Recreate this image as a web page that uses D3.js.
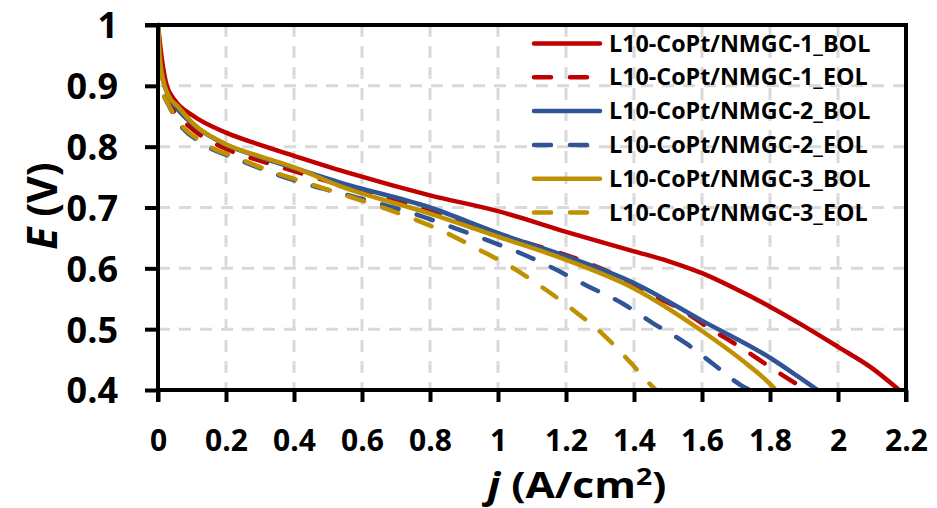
<!DOCTYPE html>
<html>
<head>
<meta charset="utf-8">
<script src="https://cdn.jsdelivr.net/npm/d3@7"></script>
<style>
html,body{margin:0;padding:0;background:#fff;}
svg{display:block;}
text{font-family:"Open Sans","Liberation Sans",sans-serif;font-weight:bold;fill:#000;}
</style>
</head>
<body>
<svg id="chart" width="937" height="508"></svg>
<script>
// ---- data ----
const seriesNames = ["L10-CoPt/NMGC-1_BOL","L10-CoPt/NMGC-1_EOL","L10-CoPt/NMGC-2_BOL","L10-CoPt/NMGC-2_EOL","L10-CoPt/NMGC-3_BOL","L10-CoPt/NMGC-3_EOL"];
const seriesColors = ["#C00000","#C00000","#2F5597","#2F5597","#BF9000","#BF9000"];
const seriesDashed = [false,true,false,true,false,true];

const j1BOL = [0,0.01,0.026,0.05,0.1,0.2,0.3,0.4,0.566,0.8,1.0,1.2,1.4,1.5,1.6,1.7,1.8,1.9,2.0,2.1,2.18];
const E1BOL = [1.0,0.95,0.9,0.876,0.852,0.823,0.803,0.785,0.756,0.72,0.694,0.66,0.628,0.612,0.592,0.566,0.537,0.505,0.471,0.436,0.4];

const j1EOL = [0,0.005,0.015,0.03,0.06,0.088,0.218,0.306,0.41,0.6,0.8,1.0,1.234,1.337,1.434,1.53,1.626,1.717,1.81,1.9,1.91];
const E1EOL = [1.0,0.95,0.9,0.875,0.85,0.835,0.792,0.776,0.758,0.727,0.694,0.656,0.615,0.591,0.561,0.535,0.5,0.469,0.434,0.403,0.4];

const j2BOL = [0,0.005,0.015,0.03,0.06,0.1,0.2,0.3,0.4,0.536,0.8,1.0,1.2,1.4,1.6,1.8,1.87,1.94];
const E2BOL = [1.0,0.95,0.91,0.885,0.86,0.838,0.803,0.783,0.765,0.741,0.7,0.658,0.62,0.576,0.514,0.453,0.427,0.4];

const j2EOL = [0,0.005,0.015,0.03,0.056,0.135,0.236,0.34,0.44,0.54,0.66,0.763,0.863,0.97,1.07,1.163,1.263,1.364,1.455,1.552,1.63,1.72,1.74];
const E2EOL = [1.0,0.93,0.89,0.87,0.843,0.804,0.779,0.756,0.738,0.723,0.705,0.688,0.668,0.646,0.624,0.6,0.571,0.543,0.51,0.477,0.444,0.406,0.4];

const j3BOL = [0,0.005,0.015,0.03,0.06,0.1,0.2,0.3,0.4,0.536,0.8,1.0,1.2,1.4,1.6,1.72,1.8,1.817];
const E3BOL = [1.0,0.95,0.91,0.885,0.865,0.84,0.804,0.784,0.766,0.735,0.69,0.652,0.614,0.567,0.497,0.448,0.41,0.4];

const j3EOL = [0,0.005,0.015,0.03,0.056,0.135,0.236,0.34,0.44,0.54,0.645,0.748,0.845,0.943,1.043,1.13,1.22,1.308,1.38,1.452,1.465];
const E3EOL = [1.0,0.93,0.89,0.87,0.845,0.806,0.781,0.758,0.74,0.722,0.703,0.682,0.659,0.631,0.601,0.569,0.532,0.492,0.451,0.407,0.4];

const xTicks = [0,0.2,0.4,0.6,0.8,1,1.2,1.4,1.6,1.8,2,2.2];
const xTickLabels = ["0","0.2","0.4","0.6","0.8","1","1.2","1.4","1.6","1.8","2","2.2"];
const yTicks = [0.4,0.5,0.6,0.7,0.8,0.9,1];
const yTickLabels = ["0.4","0.5","0.6","0.7","0.8","0.9","1"];

const jData = [j1BOL,j1EOL,j2BOL,j2EOL,j3BOL,j3EOL];
const EData = [E1BOL,E1EOL,E2BOL,E2EOL,E3BOL,E3EOL];

// ---- layout ----
const svg = d3.select("#chart");
const L = 158, R = 906, T = 25, B = 390;
const x = d3.scaleLinear().domain([0,2.2]).range([L,R]);
const y = d3.scaleLinear().domain([0.4,1]).range([B,T]);

// grid
const grid = svg.append("g");
grid.selectAll(".vg").data(xTicks.slice(1,-1)).enter().append("line")
  .attr("x1",d=>x(d)).attr("x2",d=>x(d)).attr("y1",T).attr("y2",B)
  .attr("stroke","#d9d9d9").attr("stroke-width",3).attr("stroke-dasharray","12,9");
grid.selectAll(".hg").data(yTicks.slice(1,-1)).enter().append("line")
  .attr("x1",L).attr("x2",R).attr("y1",d=>y(d)).attr("y2",d=>y(d))
  .attr("stroke","#d9d9d9").attr("stroke-width",3).attr("stroke-dasharray","12,9");

// curves
svg.append("clipPath").attr("id","clip").append("rect")
  .attr("x",L).attr("y",T-3).attr("width",R-L).attr("height",B-T+3);
const line = d3.line().x(d=>x(d[0])).y(d=>y(d[1])).curve(d3.curveMonotoneX);
const curves = svg.append("g").attr("clip-path","url(#clip)");
seriesNames.forEach((n,i)=>{
  const pts = jData[i].map((v,k)=>[v,EData[i][k]]);
  curves.append("path").datum(pts).attr("d",line)
    .attr("fill","none").attr("stroke",seriesColors[i]).attr("stroke-width",4.5)
    .attr("stroke-linecap","round").attr("stroke-linejoin","round")
    .attr("stroke-dasharray",seriesDashed[i]?"17,19":null);
});

// frame
const frame = svg.append("g").attr("stroke","#000").attr("stroke-width",4);
frame.append("line").attr("x1",L-13).attr("x2",R+2).attr("y1",T).attr("y2",T);
frame.append("line").attr("x1",R).attr("x2",R).attr("y1",T).attr("y2",B+12);
// axes
const xAxis = d3.axisBottom(x).tickValues(xTicks).tickSize(12).tickSizeOuter(0)
  .tickFormat((d,i)=>xTickLabels[i]);
const gx = svg.append("g").attr("transform",`translate(0,${B})`).call(xAxis);
gx.select(".domain").attr("stroke","#000").attr("stroke-width",4).attr("d",`M${L-2},0H${R+2}`);
gx.selectAll(".tick line").attr("stroke","#000").attr("stroke-width",4);
gx.selectAll(".tick text").attr("font-size",30).attr("font-family","Open Sans").attr("font-weight","bold").attr("fill","#000").attr("dy",0).attr("y",61);

const yAxis = d3.axisLeft(y).tickValues(yTicks).tickSize(13).tickSizeOuter(0)
  .tickFormat((d,i)=>yTickLabels[i]);
const gy = svg.append("g").attr("transform",`translate(${L},0)`).call(yAxis);
gy.select(".domain").attr("stroke","#000").attr("stroke-width",4).attr("d",`M0,${T-2}V${B+12}`);
gy.selectAll(".tick line").attr("stroke","#000").attr("stroke-width",4);
gy.selectAll(".tick text").attr("font-size",36).attr("font-family","Open Sans").attr("font-weight","bold").attr("fill","#000").attr("dy","0.36em").attr("x",-40);

// axis titles
const xt = svg.append("text").attr("transform","translate(577,498) scale(1.18,1)").attr("text-anchor","middle").attr("font-size",36);
xt.append("tspan").attr("font-style","italic").text("j");
xt.append("tspan").text(" (A/cm");
xt.append("tspan").attr("font-size",24).attr("dy",-13).text("2");
xt.append("tspan").attr("dy",13).text(")");

const yt = svg.append("text").attr("transform","translate(57,206) rotate(-90)").attr("text-anchor","middle").attr("font-size",41);
yt.append("tspan").attr("font-style","italic").text("E");
yt.append("tspan").text(" (V)");

// legend
const lg = svg.append("g");
seriesNames.forEach((n,i)=>{
  const cy = 43.5 + i*33.8;
  lg.append("line").attr("x1",534).attr("x2",600).attr("y1",cy).attr("y2",cy)
    .attr("stroke",seriesColors[i]).attr("stroke-width",4.5).attr("stroke-linecap","round")
    .attr("stroke-dasharray",seriesDashed[i]?"17,19":null);
  lg.append("text").attr("x",609).attr("y",cy+8).attr("font-size",23.3).text(n);
});
</script>
</body>
</html>
